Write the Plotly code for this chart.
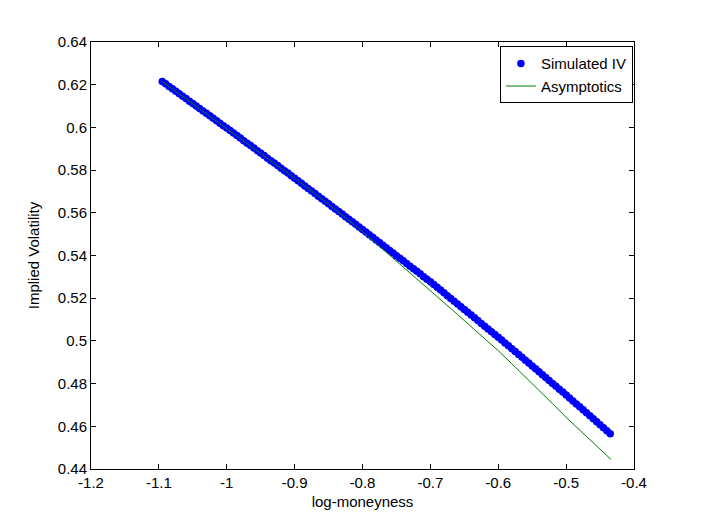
import plotly.graph_objects as go

# Simulated IV (blue dots)
sim_x = [
    -1.095, -1.090, -1.085, -1.080, -1.075, -1.070, -1.065, -1.060, -1.055, -1.050,
    -1.045, -1.040, -1.035, -1.030, -1.025, -1.020, -1.015, -1.010, -1.005, -1.000,
    -0.995, -0.990, -0.985, -0.980, -0.975, -0.970, -0.965, -0.960, -0.955, -0.950,
    -0.945, -0.940, -0.935, -0.930, -0.925, -0.920, -0.915, -0.910, -0.905, -0.900,
    -0.895, -0.890, -0.885, -0.880, -0.875, -0.870, -0.865, -0.860, -0.855, -0.850,
    -0.845, -0.840, -0.835, -0.830, -0.825, -0.820, -0.815, -0.810, -0.805, -0.800,
    -0.795, -0.790, -0.785, -0.780, -0.775, -0.770, -0.765, -0.760, -0.755, -0.750,
    -0.745, -0.740, -0.735, -0.730, -0.725, -0.720, -0.715, -0.710, -0.705, -0.700,
    -0.695, -0.690, -0.685, -0.680, -0.675, -0.670, -0.665, -0.660, -0.655, -0.650,
    -0.645, -0.640, -0.635, -0.630, -0.625, -0.620, -0.615, -0.610, -0.605, -0.600,
    -0.595, -0.590, -0.585, -0.580, -0.575, -0.570, -0.565, -0.560, -0.555, -0.550,
    -0.545, -0.540, -0.535, -0.530, -0.525, -0.520, -0.515, -0.510, -0.505, -0.500,
    -0.495, -0.490, -0.485, -0.480, -0.475, -0.470, -0.465, -0.460, -0.455, -0.450,
    -0.445, -0.440, -0.435,
]
sim_iv = [
    0.6215, 0.6204, 0.6192, 0.6181, 0.6169, 0.6158, 0.6146, 0.6135, 0.6123, 0.6112,
    0.6100, 0.6089, 0.6077, 0.6066, 0.6054, 0.6043, 0.6031, 0.6020, 0.6008, 0.5997,
    0.5985, 0.5974, 0.5962, 0.5950, 0.5938, 0.5926, 0.5915, 0.5903, 0.5891, 0.5880,
    0.5868, 0.5856, 0.5844, 0.5833, 0.5821, 0.5809, 0.5797, 0.5786, 0.5774, 0.5762,
    0.5750, 0.5738, 0.5726, 0.5714, 0.5702, 0.5690, 0.5678, 0.5666, 0.5654, 0.5642,
    0.5630, 0.5618, 0.5606, 0.5594, 0.5582, 0.5570, 0.5558, 0.5546, 0.5534, 0.5522,
    0.5510, 0.5497, 0.5485, 0.5473, 0.5461, 0.5448, 0.5436, 0.5424, 0.5412, 0.5399,
    0.5387, 0.5375, 0.5363, 0.5350, 0.5338, 0.5326, 0.5314, 0.5301, 0.5289, 0.5277,
    0.5264, 0.5251, 0.5238, 0.5225, 0.5212, 0.5199, 0.5186, 0.5173, 0.5160, 0.5147,
    0.5134, 0.5121, 0.5108, 0.5095, 0.5082, 0.5069, 0.5056, 0.5043, 0.5030, 0.5017,
    0.5004, 0.4990, 0.4977, 0.4963, 0.4950, 0.4936, 0.4923, 0.4909, 0.4896, 0.4882,
    0.4869, 0.4855, 0.4842, 0.4828, 0.4815, 0.4801, 0.4788, 0.4774, 0.4761, 0.4747,
    0.4733, 0.4719, 0.4705, 0.4691, 0.4677, 0.4663, 0.4649, 0.4635, 0.4621, 0.4607,
    0.4593, 0.4579, 0.4565,
]

# Asymptotics (green line)
asy_x = [-1.096, -1.05, -1.00, -0.95, -0.90, -0.85, -0.82, -0.80, -0.78, -0.76,
         -0.74, -0.72, -0.70, -0.68, -0.66, -0.64, -0.62, -0.60, -0.58, -0.56,
         -0.54, -0.52, -0.50, -0.48, -0.46, -0.434]
asy_iv = [0.6217, 0.6110, 0.5997, 0.5880, 0.5762, 0.5641, 0.5566, 0.5512, 0.5457, 0.5402,
          0.5347, 0.5292, 0.5236, 0.5180, 0.5124, 0.5067, 0.5011, 0.4954, 0.4893, 0.4832,
          0.4769, 0.4706, 0.4642, 0.4583, 0.4523, 0.4445]

x_tickvals = [-1.2, -1.1, -1.0, -0.9, -0.8, -0.7, -0.6, -0.5, -0.4]
x_ticktext = ["-1.2", "-1.1", "-1", "-0.9", "-0.8", "-0.7", "-0.6", "-0.5", "-0.4"]
y_tickvals = [0.44, 0.46, 0.48, 0.50, 0.52, 0.54, 0.56, 0.58, 0.60, 0.62, 0.64]
y_ticktext = ["0.44", "0.46", "0.48", "0.5", "0.52", "0.54", "0.56", "0.58", "0.6", "0.62", "0.64"]

FONT = "Liberation Sans, Arial, sans-serif"
FS = 15

fig = go.Figure()
fig.add_trace(go.Scatter(
    x=sim_x, y=sim_iv, mode="markers", name="Simulated IV",
    marker=dict(color="#0000FF", size=7.5, line=dict(width=0)),
))
fig.add_trace(go.Scatter(
    x=asy_x, y=asy_iv, mode="lines", name="Asymptotics",
    line=dict(color="#008000", width=1),
))

axis_common = dict(
    showgrid=False, zeroline=False, showline=True, linecolor="black", linewidth=1,
    mirror="ticks", ticks="inside", ticklen=5, tickcolor="black", tickwidth=1,
    tickfont=dict(family=FONT, size=FS, color="black"),
)

fig.update_layout(
    width=687, height=513,
    margin=dict(l=83, r=61, t=34, b=52),
    paper_bgcolor="white", plot_bgcolor="white",
    font=dict(family=FONT, size=FS, color="black"),
    xaxis=dict(range=[-1.2, -0.4], tickvals=x_tickvals, ticktext=x_ticktext,
               title=dict(text="log-moneyness", font=dict(family=FONT, size=FS), standoff=6),
               **axis_common),
    yaxis=dict(range=[0.44, 0.64], tickvals=y_tickvals, ticktext=y_ticktext,
               title=dict(text="Implied Volatility", font=dict(family=FONT, size=FS), standoff=14),
               **axis_common),
    legend=dict(x=0.998, y=0.99, xanchor="right", yanchor="top",
                bgcolor="white", bordercolor="black", borderwidth=1,
                font=dict(family=FONT, size=FS, color="black"),
                tracegroupgap=0, itemwidth=30),
    showlegend=True,
)

fig.write_html("out.html")
